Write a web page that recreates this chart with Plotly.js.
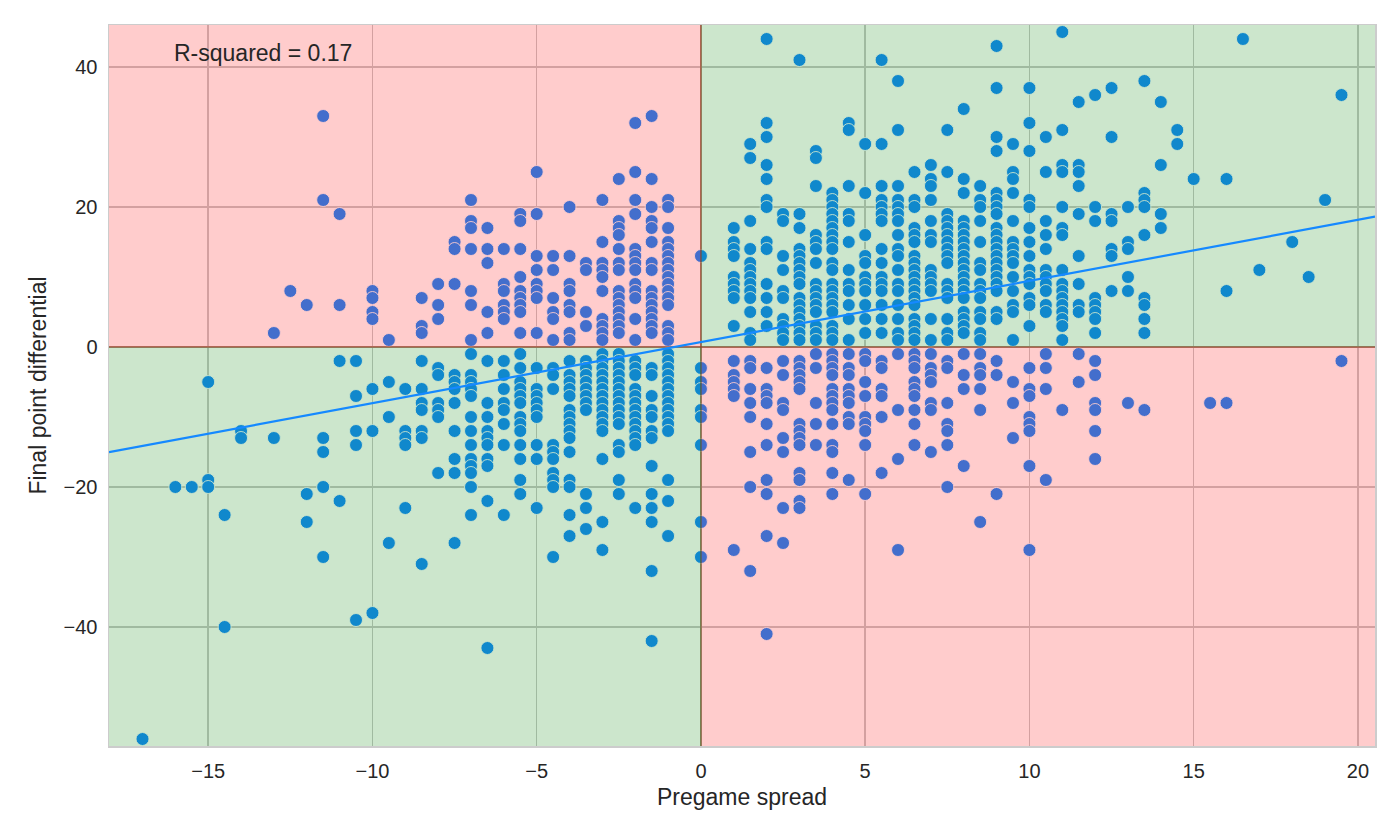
<!DOCTYPE html>
<html><head><meta charset="utf-8">
<script src="https://cdn.plot.ly/plotly-3.0.1.min.js"></script>
<style>html,body{margin:0;padding:0;background:#fff}#chart{width:1400px;height:840px}</style>
</head><body><div id="chart"></div>
<script>
// Pregame spread columns and the final point differentials read in each column
const spreads = [-17,-16,-15.5,-15,-14.5,-14,-13,-12.5,-12,-11.5,-11,-10.5,-10,-9.5,-9,-8.5,-8,-7.5,-7,-6.5,-6,-5.5,-5,-4.5,-4,-3.5,-3,-2.5,-2,-1.5,-1,0,1,1.5,2,2.5,3,3.5,4,4.5,5,5.5,6,6.5,7,7.5,8,8.5,9,9.5,10,10.5,11,11.5,12,12.5,13,13.5,14,14.5,15,15.5,16,16.5,17,18,18.5,19,19.5];
const diffsBySpread = [
 [-56],
 [-20],
 [-20],
 [-5,-19,-20],
 [-24,-40],
 [-12,-13],
 [2,-13],
 [8],
 [6,-21,-25],
 [33,21,-13,-15,-20,-30],
 [19,6,-2,-22],
 [-2,-7,-12,-14,-39],
 [8,7,5,4,-6,-12,-38],
 [1,-5,-10,-28],
 [-6,-12,-13,-14,-23],
 [7,3,2,-2,-6,-8,-9,-12,-13,-31],
 [9,6,4,-3,-4,-8,-9,-10,-18],
 [15,14,9,-4,-5,-6,-8,-12,-16,-18,-28],
 [21,18,17,14,8,6,1,-1,-4,-5,-6,-7,-10,-12,-14,-16,-17,-18,-20,-24],
 [17,14,12,5,2,-2,-8,-10,-12,-13,-14,-16,-17,-22,-43],
 [14,9,8,6,5,4,-2,-4,-6,-8,-9,-11,-14,-24],
 [19,18,14,10,8,7,6,5,2,-1,-3,-5,-6,-7,-8,-10,-11,-12,-14,-16,-19,-21],
 [25,19,13,11,9,8,7,2,-3,-6,-7,-8,-9,-10,-14,-16,-23],
 [13,11,7,5,4,1,-3,-4,-6,-14,-15,-16,-18,-19,-20,-30],
 [20,13,9,8,6,5,2,1,-2,-4,-5,-6,-7,-9,-10,-11,-12,-13,-15,-19,-20,-24,-27],
 [12,11,5,3,-2,-3,-4,-5,-6,-7,-8,-9,-21,-23,-26],
 [21,15,12,11,10,8,4,3,2,1,-1,-2,-3,-4,-5,-6,-7,-8,-9,-10,-11,-12,-16,-25,-29],
 [24,18,17,16,14,12,11,8,7,6,5,4,3,2,-1,-2,-3,-4,-5,-6,-7,-8,-9,-10,-11,-14,-15,-19,-21],
 [32,25,21,19,14,13,12,11,9,8,7,4,1,-2,-3,-4,-6,-7,-8,-9,-10,-11,-12,-13,-14,-23],
 [33,24,20,18,17,15,12,11,8,7,6,5,4,3,2,-3,-4,-7,-9,-10,-12,-13,-17,-21,-23,-25,-32,-42],
 [21,20,17,15,14,13,12,11,10,9,8,7,6,3,2,1,-1,-2,-3,-4,-5,-6,-7,-8,-9,-10,-11,-12,-19,-22,-27],
 [13,-3,-5,-6,-9,-10,-14,-25,-30],
 [17,15,14,13,10,9,8,7,3,-2,-4,-5,-6,-7,-29],
 [29,27,18,14,12,11,10,9,8,7,5,2,1,-2,-3,-6,-8,-10,-15,-20,-32],
 [44,32,30,26,24,21,20,15,14,9,7,5,3,-3,-6,-7,-8,-11,-14,-19,-21,-27,-41],
 [19,18,13,11,8,7,4,3,2,1,-2,-4,-8,-9,-13,-15,-23,-28],
 [41,19,17,14,13,12,11,10,9,7,6,5,4,3,2,1,-2,-3,-4,-5,-6,-11,-12,-13,-14,-18,-19,-22,-23],
 [28,27,23,16,15,14,12,9,8,7,6,5,3,2,1,-1,-3,-8,-11,-14],
 [22,21,20,19,18,17,16,15,14,12,11,9,8,7,6,5,3,2,1,-1,-2,-3,-4,-6,-7,-8,-9,-11,-14,-15,-18,-21],
 [32,31,23,19,18,15,11,9,8,6,4,1,-1,-3,-4,-6,-7,-8,-10,-11,-19],
 [29,22,16,13,12,10,9,8,6,4,2,-1,-2,-5,-7,-10,-11,-12,-14,-21],
 [41,29,23,21,20,19,18,14,12,10,9,8,6,4,2,-2,-3,-6,-7,-10,-18],
 [38,31,23,21,20,19,18,16,14,13,11,9,8,6,4,2,1,-1,-9,-16,-29],
 [25,21,20,17,16,15,13,12,11,10,9,8,7,6,4,3,2,1,-1,-2,-3,-5,-6,-7,-9,-11,-14],
 [26,24,23,21,18,16,15,11,10,9,8,4,1,-1,-3,-4,-5,-8,-9,-15],
 [31,25,19,18,17,16,15,14,13,12,9,8,7,4,2,1,-2,-3,-8,-11,-12,-14,-20],
 [34,24,22,18,17,16,15,14,13,12,11,10,9,8,7,5,4,3,2,-1,-4,-6,-17],
 [23,21,20,18,15,12,11,9,8,7,5,4,2,1,-1,-3,-4,-6,-9,-25],
 [43,37,30,28,22,21,20,19,17,16,15,14,13,12,11,10,9,8,5,4,-2,-4,-21],
 [29,25,24,22,18,15,14,13,12,10,8,6,5,1,-5,-8,-13],
 [37,32,28,21,20,17,15,13,11,10,9,7,6,3,-3,-6,-7,-10,-11,-12,-17,-29],
 [30,25,18,16,14,11,10,9,8,6,5,-1,-3,-6,-19],
 [45,31,26,25,20,17,16,11,9,8,7,6,5,4,3,1,-9],
 [35,26,25,23,19,13,9,6,5,-1,-5],
 [36,20,18,7,6,5,4,2,-2,-4,-8,-9,-12,-16],
 [37,30,19,18,14,13,8],
 [20,15,14,10,8,-8],
 [38,22,21,20,16,7,6,4,2,-9],
 [35,26,19,17],
 [31,29],
 [24],
 [-8],
 [24,8,-8],
 [44],
 [11],
 [15],
 [10],
 [21],
 [36,-2]
];
const xTicks = [-15,-10,-5,0,5,10,15,20];
const yTicks = [-40,-20,0,20,40];
const xTitle = 'Pregame spread';
const yTitle = 'Final point differential';
const rSquaredLabel = 'R-squared = 0.17';
const fitSlope = 0.873;
const fitIntercept = 0.71;

const xs = [], ys = [];
spreads.forEach((s, i) => diffsBySpread[i].forEach(d => { xs.push(s); ys.push(d); }));

const xRange = [-18.02, 20.52];
const yRange = [-57, 46];
const font = {family: 'Liberation Sans, Arial, sans-serif', color: '#262626'};

const far = 200;
const pinkFill = 'rgba(255,0,0,0.2)', greenFill = 'rgba(0,128,0,0.2)';
const pinkEdge = 'rgba(190,40,30,0.45)', greenEdge = 'rgba(50,110,30,0.45)';
function rect(x0, x1, y0, y1, fill, edge) {
  return {type: 'rect', xref: 'x', yref: 'y', x0, x1, y0, y1, layer: 'above',
          fillcolor: fill, line: {color: edge, width: 1.5}};
}
const shapes = [
  rect(0, far, 0, far, greenFill, greenEdge),      // top-right
  rect(0, far, -far, 0, pinkFill, pinkEdge),       // bottom-right
  rect(-far, 0, -far, 0, greenFill, greenEdge),    // bottom-left
  rect(-far, 0, 0, far, pinkFill, pinkEdge),       // top-left
  {type: 'line', xref: 'x', yref: 'y', layer: 'above',
   x0: xRange[0], x1: xRange[1],
   y0: fitIntercept + fitSlope * xRange[0], y1: fitIntercept + fitSlope * xRange[1],
   line: {color: '#1589ff', width: 2.2}}
];

const trace = {
  type: 'scatter', mode: 'markers', x: xs, y: ys,
  marker: {color: 'rgb(21,138,255)', size: 13, line: {color: '#ffffff', width: 0.9}},
  hoverinfo: 'x+y', showlegend: false
};

const layout = {
  width: 1400, height: 840,
  margin: {l: 109, r: 25, t: 25, b: 94},
  paper_bgcolor: '#ffffff', plot_bgcolor: '#ffffff',
  font: Object.assign({size: 20}, font),
  xaxis: {range: xRange, tickvals: xTicks, ticks: '', showgrid: true, gridcolor: '#c8c8c8', gridwidth: 1.5,
          zeroline: false, showline: true, mirror: true, linecolor: '#cccccc', linewidth: 1.5,
          tickfont: Object.assign({size: 20}, font), ticklabelstandoff: 6,
          title: {text: xTitle, font: Object.assign({size: 23}, font), standoff: 8}},
  yaxis: {range: yRange, tickvals: yTicks, ticks: '', showgrid: true, gridcolor: '#c8c8c8', gridwidth: 1.5,
          zeroline: false, showline: true, mirror: true, linecolor: '#cccccc', linewidth: 1.5,
          tickfont: Object.assign({size: 20}, font), ticklabelstandoff: 6,
          title: {text: yTitle, font: Object.assign({size: 23}, font), standoff: 10}},
  shapes: shapes,
  annotations: [{x: -16.1, y: 42, xref: 'x', yref: 'y', text: rSquaredLabel, showarrow: false,
                 xanchor: 'left', yanchor: 'middle', font: Object.assign({size: 23}, font)}]
};

Plotly.newPlot('chart', [trace], layout, {displayModeBar: false, staticPlot: true});
</script>
</body></html>
